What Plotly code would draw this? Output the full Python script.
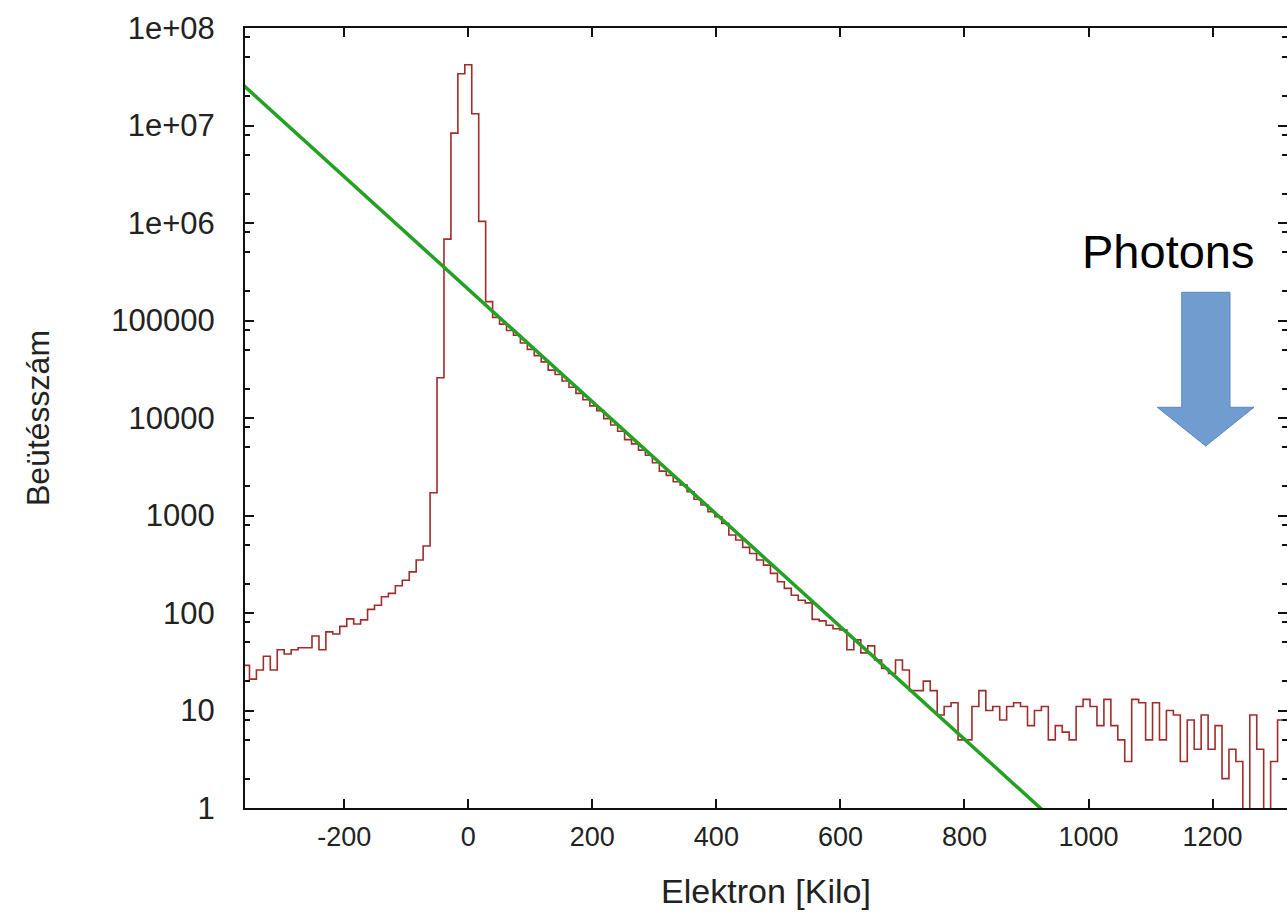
import plotly.graph_objects as go

# ---------------- data ----------------
bin_width = 11.2
bin_index = list(range(-33, 120))

counts_left = [29, 29, 21, 26, 36, 26, 42, 38, 42, 44, 44, 58, 42, 64, 61, 73, 87, 77, 85,
               109, 120, 147, 159, 190, 217, 264, 349, 486, 1711, 25900, 683000, 8360000,
               34000000, 42000000]
counts_peak_right = [13200000, 1040000, 156000]
counts_slope = [107700, 91800, 79100, 70500, 58700, 50600, 43600, 37600, 31000, 27900, 24000,
                20700, 17900, 15400, 13300, 11900, 9850, 8490, 7310, 6000, 5430, 4680, 4150,
                3480, 2850, 2580, 2220]
counts_slope2 = [2053, 1754, 1466, 1281, 1092, 970, 830, 630, 560, 471, 408, 349, 310, 255, 209,
                 179, 152, 135, 127, 86, 83, 75, 69, 67, 42, 53, 39, 46, 33, 27, 24, 33, 26, 16,
                 16, 20, 16]
counts_tail = [9, 11, 12, 5, 5, 11, 16, 10, 11, 8, 11, 12, 11, 7, 10, 11, 5, 7, 6, 5, 11, 13, 11,
               7, 13, 7, 5, 3, 13, 12, 5, 12, 5, 10, 9, 3, 8, 4, 9, 4, 7, 2, 4, 3, 0, 9, 4, 0, 3,
               8, 8, 8]

counts = counts_left + counts_peak_right + counts_slope + counts_slope2 + counts_tail
assert len(counts) == len(bin_index)

fit_x = [-380, 1000]
fit_y = [3.26e7, 0.356]

x_range = [-360, 1320]
y_tickvals = [1, 10, 100, 1000, 10000, 100000, 1e6, 1e7, 1e8]
y_ticktext = ["1", "10", "100", "1000", "10000", "100000", "1e+06", "1e+07", "1e+08"]
y_minor_vals = [m * 10 ** d for d in range(0, 8) for m in (2, 5, 8)]
x_tickvals = [-200, 0, 200, 400, 600, 800, 1000, 1200]

# ---------------- figure ----------------
W, H = 1287, 918
ML, MR, MT, MB = 245, 0, 28, 110
PW, PH = W - ML - MR, H - MT - MB

bin_centers = [bin_width * k for k in bin_index]
plot_counts = [c if c > 0 else 0.01 for c in counts]

fig = go.Figure()
fig.add_trace(go.Scatter(x=bin_centers, y=plot_counts, mode="lines",
                         line=dict(color="#a02c2c", width=1.6, shape="hvh"),
                         showlegend=False, hoverinfo="skip"))
fig.add_trace(go.Scatter(x=fit_x, y=fit_y, mode="lines",
                         line=dict(color="#24a024", width=3.5),
                         showlegend=False, hoverinfo="skip"))
# invisible trace to anchor the mirrored (top/right) axes
fig.add_trace(go.Scatter(x=fit_x, y=fit_y, mode="lines", xaxis="x2", yaxis="y2",
                         line=dict(color="rgba(0,0,0,0)", width=0),
                         showlegend=False, hoverinfo="skip"))

font_family = "Liberation Sans, Arial, sans-serif"
xtick_font = dict(family=font_family, size=27, color="#222222")
ytick_font = dict(family=font_family, size=31, color="#222222")
xtitle_font = dict(family=font_family, size=34, color="#222222")
ytitle_font = dict(family=font_family, size=32, color="#222222")

common_x = dict(range=x_range, showgrid=False, zeroline=False, ticks="inside",
                ticklen=9, tickwidth=2, tickcolor="#111111",
                tickmode="array", tickvals=x_tickvals)
common_y = dict(type="log", range=[0, 8], showgrid=False, zeroline=False,
                ticks="inside", ticklen=9, tickwidth=2, tickcolor="#111111",
                tickmode="array", tickvals=y_tickvals,
                minor=dict(tickmode="array", tickvals=y_minor_vals, ticks="inside",
                           ticklen=5, tickwidth=2, tickcolor="#111111", showgrid=False))

fig.update_layout(
    width=W, height=H,
    margin=dict(l=ML, r=MR, t=MT, b=MB, pad=0),
    paper_bgcolor="white", plot_bgcolor="white",
    xaxis=dict(**common_x, showline=True, linecolor="#111111", linewidth=2,
               ticktext=[str(v) for v in x_tickvals], tickfont=xtick_font,
               ticklabelstandoff=4,
               title=dict(text="Elektron [Kilo]", font=xtitle_font, standoff=28)),
    xaxis2=dict(**common_x, overlaying="x", side="top", showline=True,
                linecolor="#111111", linewidth=2, showticklabels=False),
    yaxis=dict(**common_y, showline=True, linecolor="#111111", linewidth=2,
               ticktext=y_ticktext, tickfont=ytick_font, ticklabelstandoff=22,
               title=dict(text="Beütésszám", font=ytitle_font, standoff=52)),
    yaxis2=dict(**common_y, overlaying="y", side="right", showline=False,
                showticklabels=False),
)


def to_paper(px, py):
    return (px - ML) / PW, (H - MB - py) / PH


arrow_px = [(1181.7, 292.3), (1230, 292.3), (1230, 407.3), (1254, 407.3),
            (1205.7, 446), (1157.3, 407.3), (1181.7, 407.3)]
pts = [to_paper(x, y) for x, y in arrow_px]
path = "M " + " L ".join(f"{x:.5f},{y:.5f}" for x, y in pts) + " Z"
fig.add_shape(type="path", path=path, xref="paper", yref="paper",
              fillcolor="#719ccf", line=dict(color="#5b88c3", width=1), layer="above")

tx, ty = to_paper(1168.4, 252)
fig.add_annotation(text="Photons", x=tx, y=ty, xref="paper", yref="paper",
                   xanchor="center", yanchor="middle", showarrow=False,
                   font=dict(family=font_family, size=47, color="#000000"))

fig.write_html("out.html")
